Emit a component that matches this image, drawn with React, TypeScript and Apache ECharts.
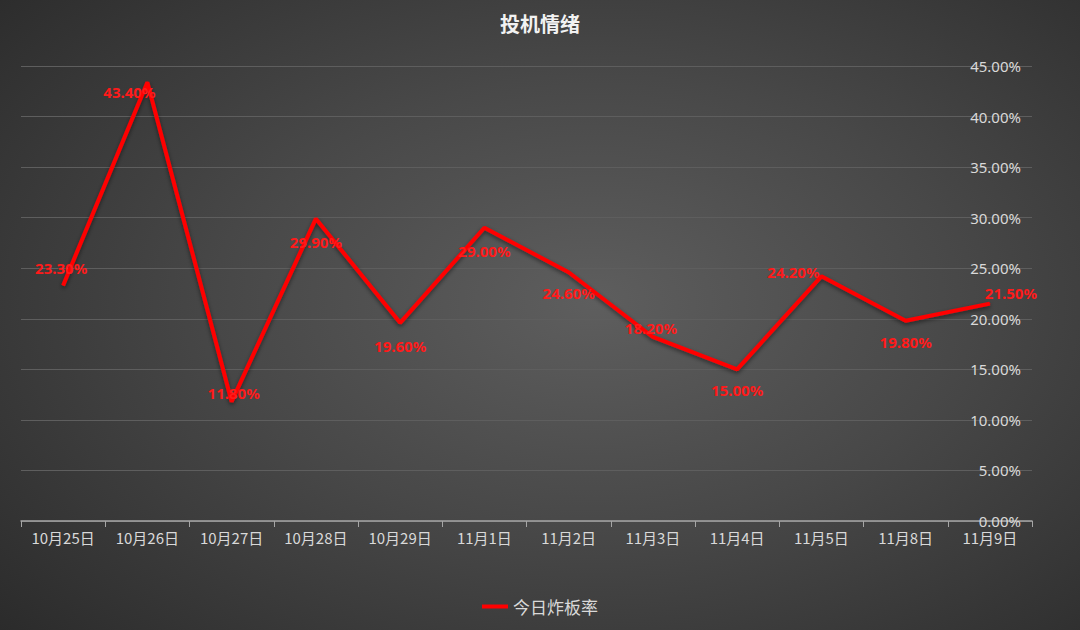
import { useRef, useEffect } from "react";
import * as echarts from "echarts";

const categories = [
    "10月25日", "10月26日", "10月27日", "10月28日", "10月29日", "11月1日",
    "11月2日", "11月3日", "11月4日", "11月5日", "11月8日", "11月9日",
];
const rates = [23.3, 43.4, 11.8, 29.9, 19.6, 29.0, 24.6, 18.2, 15.0, 24.2, 19.8, 21.5];
const yTicks = [0, 5, 10, 15, 20, 25, 30, 35, 40, 45];

// 数据标签相对点的偏移 (仿 Excel 摆放)
const labelOffsets = [
    [-2, -17], [-18, 10], [2, -9], [0, 23], [0, 23], [0, 23],
    [0, 21], [-2, -9], [0, 21], [-28, -4], [0, 21], [21, -11],
];

function App() {
    const chartRef = useRef<HTMLDivElement | null>(null);

    useEffect(() => {
        if (!chartRef.current) return;
        const chart = echarts.init(chartRef.current, null, { renderer: "svg" });

        chart.setOption({
            animation: false,
            backgroundColor: "transparent",
            title: {
                text: "投机情绪",
                left: "center",
                top: 8,
                textStyle: {
                    color: "#f2f2f2",
                    fontSize: 20,
                    fontWeight: "bold",
                    fontFamily: "Noto Sans CJK SC",
                },
            },
            legend: {
                bottom: 10,
                left: "center",
                itemWidth: 26,
                itemHeight: 4,
                icon: "rect",
                data: ["今日炸板率"],
                textStyle: { color: "#d9d9d9", fontSize: 17, fontFamily: "Noto Sans CJK SC" },
            },
            grid: { left: 21, right: 48, top: 66, bottom: 109 },
            xAxis: {
                type: "category",
                data: categories,
                boundaryGap: true,
                axisLine: { lineStyle: { color: "#a6a6a6", width: 1.5 } },
                axisTick: { show: true, length: 6, lineStyle: { color: "#a6a6a6" } },
                axisLabel: {
                    color: "#d9d9d9",
                    fontSize: 15,
                    margin: 9,
                    fontFamily: "Noto Sans CJK SC",
                },
            },
            yAxis: {
                type: "value",
                position: "right",
                min: yTicks[0],
                max: yTicks[yTicks.length - 1],
                interval: 5,
                axisLine: { show: false },
                axisTick: { show: false },
                splitLine: { lineStyle: { color: "#5e5e5e", width: 1 } },
                axisLabel: {
                    inside: true,
                    margin: 11,
                    color: "#d9d9d9",
                    fontSize: 15,
                    fontFamily: "Noto Sans",
                    formatter: (v: number) => v.toFixed(2) + "%",
                },
            },
            series: [
                {
                    name: "今日炸板率",
                    type: "line",
                    data: rates.map((v, i) => ({
                        value: v,
                        label: { offset: labelOffsets[i] },
                    })),
                    symbol: "circle",
                    symbolSize: 1,
                    showSymbol: true,
                    itemStyle: { color: "#ff0000" },
                    lineStyle: {
                        color: "#ff0000",
                        width: 4,
                        shadowColor: "rgba(0,0,0,0.5)",
                        shadowBlur: 4,
                        shadowOffsetY: 2,
                    },
                    label: {
                        show: true,
                        position: "inside",
                        color: "#ff1a1a",
                        fontSize: 15,
                        fontWeight: "bold",
                        fontFamily: "Noto Sans",
                        formatter: (p: any) => Number(p.value).toFixed(2) + "%",
                    },
                },
            ],
        });

        return () => chart.dispose();
    }, []);

    return (
        <div
            style={{
                position: "absolute",
                left: 0,
                top: 0,
                width: "1080px",
                height: "630px",
                background:
                    "radial-gradient(ellipse 75% 80% at 55% 48%, #5e5e5e 0%, #484848 45%, #2a2a2a 100%)",
            }}
        >
            <div ref={chartRef} style={{ width: "1080px", height: "630px" }} />
        </div>
    );
}

export default App;
